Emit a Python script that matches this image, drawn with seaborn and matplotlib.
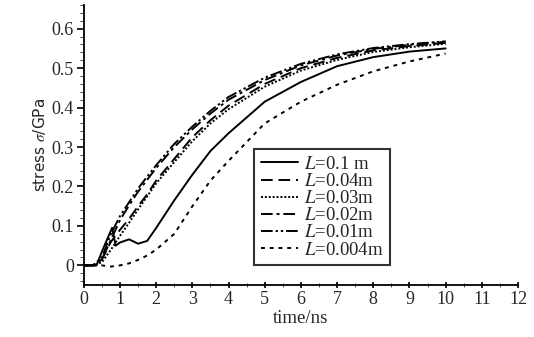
import matplotlib
matplotlib.use('Agg')
import matplotlib.pyplot as plt
from matplotlib.ticker import MultipleLocator
import seaborn as sns
import pandas as pd

# values (time in ns, stress in GPa)
t_main = [0, 0.25, 0.5, 0.75, 1.0, 1.25, 1.5, 1.75, 2.0, 2.5, 3, 3.5, 4, 5, 6, 7, 8, 9, 10]

t_01 = [0, 0.25, 0.35, 0.5, 0.78, 0.88, 1.0, 1.25, 1.5, 1.75, 2.0, 2.5, 3, 3.5, 4, 5, 6, 7, 8, 9, 10]
s_01 = [0, 0, 0, 0.035, 0.095, 0.05, 0.058, 0.066, 0.055, 0.062, 0.095, 0.165, 0.23, 0.29, 0.335,
        0.415, 0.465, 0.505, 0.528, 0.542, 0.55]

s_004 = [0, 0, 0.015, 0.06, 0.09, 0.118, 0.15, 0.18, 0.215, 0.27, 0.325, 0.368, 0.405, 0.46, 0.5,
         0.526, 0.545, 0.556, 0.564]
s_003 = [0, 0, 0.008, 0.04, 0.075, 0.108, 0.142, 0.175, 0.208, 0.262, 0.315, 0.36, 0.396, 0.453,
         0.494, 0.521, 0.541, 0.553, 0.562]
s_002 = [0, 0, 0.015, 0.065, 0.115, 0.152, 0.187, 0.217, 0.247, 0.3, 0.345, 0.385, 0.42, 0.47,
         0.507, 0.532, 0.549, 0.559, 0.567]
s_001 = [0, 0, 0.02, 0.08, 0.125, 0.16, 0.195, 0.225, 0.254, 0.308, 0.352, 0.392, 0.427, 0.476,
         0.511, 0.535, 0.551, 0.561, 0.568]
s_0004 = [0, 0, 0, -0.003, 0, 0.005, 0.014, 0.025, 0.04, 0.08, 0.15, 0.215, 0.265, 0.36, 0.415,
          0.458, 0.492, 0.517, 0.537]

labels = ["0.1 m", "0.04m", "0.03m", "0.02m", "0.01m", "0.004m"]
series = [(t_01, s_01), (t_main, s_004), (t_main, s_003), (t_main, s_002), (t_main, s_001), (t_main, s_0004)]

rows = []
for lab, (tt, ss) in zip(labels, series):
    for a, b in zip(tt, ss):
        rows.append({"L": lab, "time": a, "stress": b})
df = pd.DataFrame(rows)

dashes = {
    "0.1 m": "",
    "0.04m": (6, 3),
    "0.03m": (1, 1),
    "0.02m": (6, 2, 1.5, 2),
    "0.01m": (6, 1.5, 1.2, 1.5, 1.2, 1.5),
    "0.004m": (2, 2.5),
}

sns.set_style("ticks")
plt.rcParams['font.family'] = ['Liberation Serif', 'DejaVu Serif']
plt.rcParams['mathtext.fontset'] = 'stix'

fig = plt.figure(figsize=(5.34, 3.37), dpi=100)
ax = fig.add_axes([0.157, 0.154, 0.813, 0.831])

sns.lineplot(data=df, x="time", y="stress", hue="L", style="L", hue_order=labels, style_order=labels,
             palette=["black"] * 6, dashes=dashes, sort=False, estimator=None, linewidth=1.4,
             legend=False, ax=ax)

ax.set_xlim(0, 12)
ax.set_ylim(-0.05, 0.66)
ax.xaxis.set_major_locator(MultipleLocator(1))
ax.xaxis.set_minor_locator(MultipleLocator(0.5))
ax.yaxis.set_minor_locator(MultipleLocator(0.02))
ax.set_yticks([0, 0.1, 0.2, 0.3, 0.4, 0.5, 0.6])
ax.set_yticklabels(["0", "0.1", "0.2", "0.3", "0.4", "0.5", "0.6"])
ax.tick_params(axis='both', which='major', labelsize=13, length=5, width=1.2, color='black', pad=2)
ax.tick_params(axis='x', which='both', direction='inout')
ax.tick_params(axis='y', which='major', direction='out')
ax.tick_params(axis='y', which='minor', direction='out', length=3)
ax.tick_params(axis='x', which='minor', length=3)
sns.despine(ax=ax)
for sp in ax.spines.values():
    sp.set_linewidth(1.3)
    sp.set_color('black')

ax.set_xlabel("time/ns", fontsize=13.5, labelpad=1)
ax.set_ylabel(r"stress $\sigma$/GPa", fontsize=11, family=['DejaVu Sans'], labelpad=3)

leg = ax.legend(handles=ax.lines, labels=[f"$L$=" + s for s in labels],
                loc='upper left', bbox_to_anchor=(0.392, 0.485), borderaxespad=0,
                fontsize=13.5, handlelength=2.0, handletextpad=0.3, labelspacing=0.0,
                frameon=True, fancybox=False, borderpad=0.35)
leg.get_frame().set_edgecolor('black')
leg.get_frame().set_linewidth(1.5)

fig.savefig("out.png", dpi=100)
